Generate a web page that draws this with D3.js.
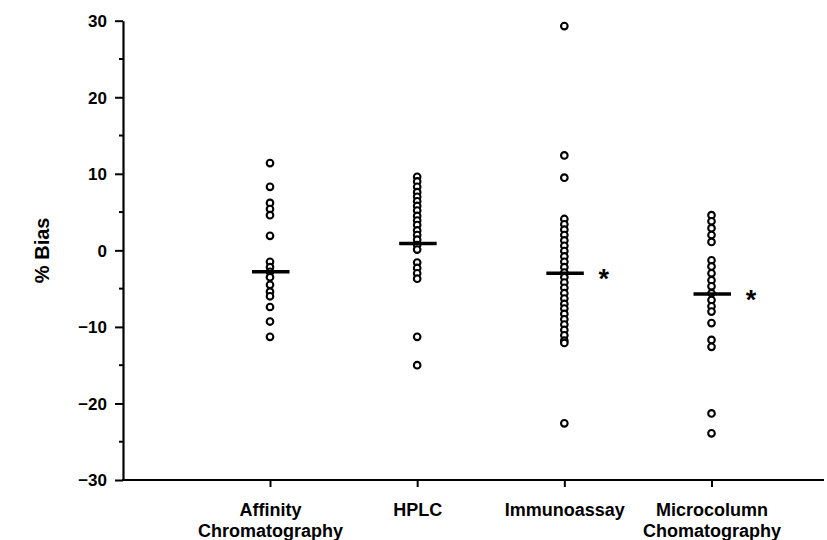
<!DOCTYPE html>
<html>
<head>
<meta charset="utf-8">
<script src="https://cdn.jsdelivr.net/npm/d3@7"></script>
<style>
  body { margin: 0; background: #fff; }
  text { font-family: "Liberation Sans", Arial, sans-serif; font-weight: bold; fill: #000; }
</style>
</head>
<body>
<script>
// categories and per-method % bias values
var categories = ["Affinity\nChromatography", "HPLC", "Immunoassay", "Microcolumn\nChomatography"];
var affinity = [11.4, 8.3, 6.2, 5.4, 4.6, 1.9, -1.5, -2.2, -2.8, -3.5, -4.5, -5.4, -6.0, -7.4, -9.3, -11.3];
var hplc = [9.6, 9.0, 8.3, 7.6, 7.0, 6.4, 5.8, 5.2, 4.5, 3.9, 3.3, 2.6, 2.0, 1.4, 0.7, 0.1, -1.6, -2.3, -3.0, -3.7, -11.3, -15.0];
var immuno = [29.3, 12.4, 9.5, 4.1, 3.4, 2.7, 2.0, 1.3, 0.6, -0.1, -0.8, -1.5, -2.2, -2.9, -3.5, -4.2, -4.9, -5.6, -6.3, -7.0, -7.6, -8.3, -9.0, -9.7, -10.4, -11.1, -11.8, -12.1, -22.6];
var micro = [4.6, 3.8, 2.9, 2.0, 1.1, -1.3, -2.1, -3.0, -3.9, -4.7, -5.6, -6.5, -7.3, -8.0, -9.5, -11.7, -12.6, -21.3, -23.9];
var means = [-2.8, 0.9, -3.0, -5.7];
var significant = [false, false, true, true];
var yTicks = [-30, -20, -10, 0, 10, 20, 30];
var yMinor = [-25, -15, -5, 5, 15, 25];

var series = [affinity, hplc, immuno, micro];

var svg = d3.select("body").append("svg").attr("width", 827).attr("height", 540);

var y = d3.scaleLinear().domain([-30, 30]).range([480, 20.7]);
var x = d3.scalePoint().domain(categories).range([270.5, 712]);
var axisX = 123, axisEnd = 824;

// y axis
var gy = svg.append("g").attr("transform", "translate(" + axisX + ",0)");
gy.call(d3.axisLeft(y).tickValues(yTicks).tickSize(8).tickPadding(8).tickSizeOuter(0).tickFormat(d3.format("d")));
gy.select(".domain").attr("stroke-width", 2.2);
gy.selectAll(".tick line").attr("stroke-width", 2);
gy.selectAll(".tick text").style("font-size", "17px").attr("dy", "0.35em");
gy.selectAll(".minor").data(yMinor).enter().append("line")
  .attr("x1", -4).attr("x2", 0)
  .attr("y1", d => y(d)).attr("y2", d => y(d))
  .attr("stroke", "#000").attr("stroke-width", 2);

// x axis
var gx = svg.append("g").attr("transform", "translate(0," + y(-30) + ")");
gx.append("line").attr("x1", axisX - 1).attr("x2", axisEnd).attr("y1", 0).attr("y2", 0)
  .attr("stroke", "#000").attr("stroke-width", 2.2);
gx.selectAll(".xt").data(categories).enter().append("line")
  .attr("x1", d => x(d)).attr("x2", d => x(d)).attr("y1", 0).attr("y2", 7)
  .attr("stroke", "#000").attr("stroke-width", 2);
var lab = gx.selectAll(".xl").data(categories).enter().append("text")
  .attr("x", d => x(d)).attr("y", 36)
  .attr("text-anchor", "middle").style("font-size", "18px");
lab.selectAll("tspan").data(d => d.split("\n")).enter().append("tspan")
  .attr("x", function() { return this.parentNode.getAttribute("x"); })
  .attr("dy", (d, i) => i ? 21 : 0)
  .text(d => d);

// y axis title
svg.append("text").attr("transform", "translate(49," + y(0) + ") rotate(-90)")
  .attr("text-anchor", "middle").style("font-size", "20px").text("% Bias");

// points
series.forEach(function(vals, i) {
  var cx = x(categories[i]) - 0.5;
  svg.append("g").selectAll("circle").data(vals).enter().append("circle")
    .attr("cx", cx).attr("cy", d => y(d)).attr("r", 3.3)
    .attr("fill", "#fff").attr("stroke", "#000").attr("stroke-width", 2.1);
});

// mean bars
svg.append("g").selectAll("line").data(means).enter().append("line")
  .attr("x1", (d, i) => x(categories[i]) - 18.5).attr("x2", (d, i) => x(categories[i]) + 19)
  .attr("y1", d => y(d)).attr("y2", d => y(d))
  .attr("stroke", "#000").attr("stroke-width", 3.6);

// significance asterisks
svg.append("g").selectAll("text").data(means).enter().filter((d, i) => significant[i]).append("text")
  .attr("x", d => x(categories[means.indexOf(d)]) + 39)
  .attr("y", d => y(d) + 15)
  .attr("text-anchor", "middle").style("font-size", "27px").text("*");
</script>
</body>
</html>
